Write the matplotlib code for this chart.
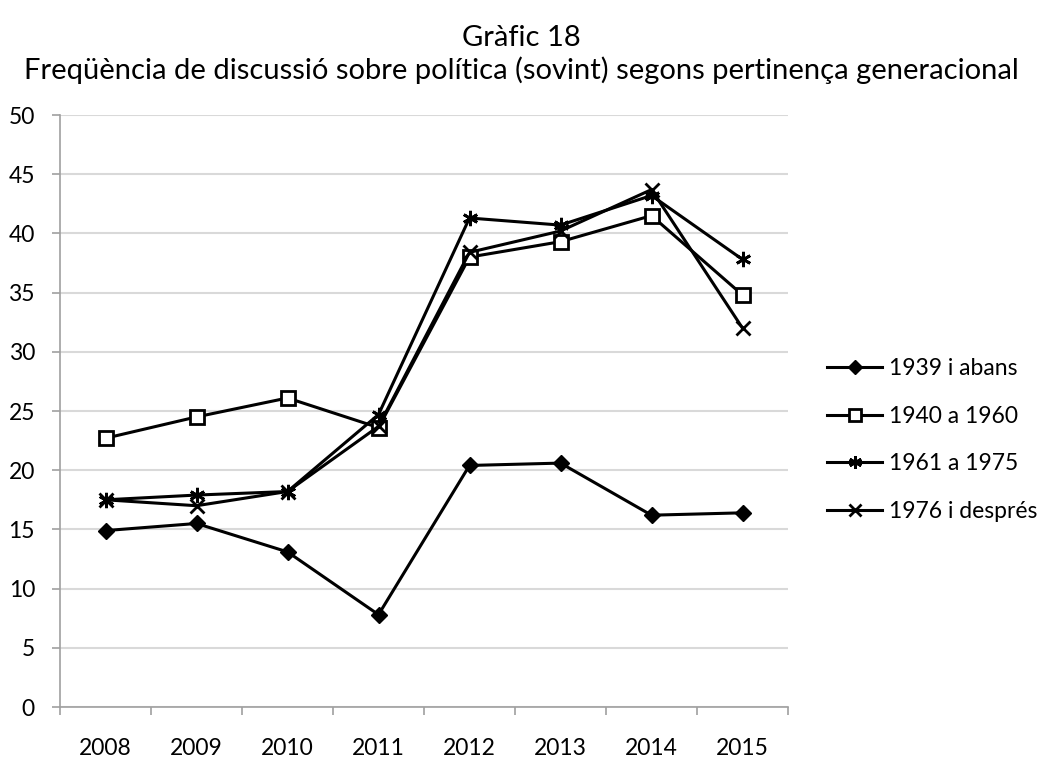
import matplotlib
matplotlib.use("Agg")
import matplotlib.pyplot as plt
import numpy as np

plt.rcParams['font.family'] = ['Lato', 'DejaVu Sans']

years = ["2008", "2009", "2010", "2011", "2012", "2013", "2014", "2015"]
s1939 = [14.9, 15.5, 13.1, 7.8, 20.4, 20.6, 16.2, 16.4]
s1940 = [22.7, 24.5, 26.1, 23.6, 38.0, 39.3, 41.5, 34.8]
s1961 = [17.5, 17.9, 18.2, 24.7, 41.3, 40.7, 43.2, 37.8]
s1976 = [17.5, 17.0, 18.2, 23.7, 38.4, 40.2, 43.7, 32.0]
labels = ["1939 i abans", "1940 a 1960", "1961 a 1975", "1976 i després"]

W, H = 1043, 762
fig = plt.figure(figsize=(W/100, H/100), dpi=100)
ax = fig.add_axes([60/W, 1-707/H, 728/W, 592/H])

x = np.arange(len(years))
ax.plot(x, s1939, color='black', lw=2.2, marker='D', ms=8, mfc='black', mec='black', label=labels[0])
ax.plot(x, s1940, color='black', lw=2.2, marker='s', ms=10, mfc='white', mec='black', mew=2, label=labels[1])
ax.plot(x, s1961, color='black', lw=2.2, marker=(6, 2, 0), ms=11, mec='black', mew=2, label=labels[2])
ax.plot(x, s1976, color='black', lw=2.2, marker='x', ms=10, mec='black', mew=2, label=labels[3])

ax.set_xlim(-0.5, 7.5)
ax.set_ylim(0, 50)
ax.set_yticks(range(0, 51, 5))
ax.set_xticks(x)
ax.set_xticklabels(years)
ax.set_xticks(np.arange(-0.5, 8, 1), minor=True)
ax.tick_params(axis='x', which='major', length=0, pad=22, labelsize=16.5)
ax.tick_params(axis='x', which='minor', length=6, color='#a0a0a0', width=1.2)
ax.tick_params(axis='y', length=6, color='#a0a0a0', width=1.2, labelsize=16.5, pad=12)
ax.grid(axis='y', color='#d9d9d9', lw=1.5)
ax.set_axisbelow(True)
for s in ['top', 'right']:
    ax.spines[s].set_visible(False)
for s in ['left', 'bottom']:
    ax.spines[s].set_color('#a0a0a0')
    ax.spines[s].set_linewidth(1.2)

fig.text(0.5, 1-38/H, "Gràfic 18", ha='center', va='center', fontsize=21)
fig.text(0.5, 1-70/H, "Freqüència de discussió sobre política (sovint) segons pertinença generacional",
         ha='center', va='center', fontsize=21)

leg = fig.legend(loc='center left', bbox_to_anchor=(827/W, 1-440/H), frameon=False, borderpad=0,
                 borderaxespad=0, fontsize=16.5, handlelength=2.4, labelspacing=1.15, handletextpad=0.3,
                 markerscale=0.85)

fig.savefig("out.png", dpi=100)
